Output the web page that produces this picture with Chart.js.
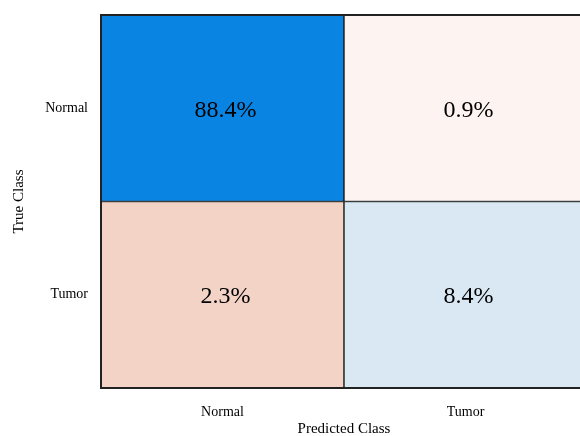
<!DOCTYPE html>
<html>
<head>
<meta charset="utf-8">
<script src="https://cdn.jsdelivr.net/npm/chart.js@4.4.1/dist/chart.umd.min.js"></script>
<style>
  html, body { margin: 0; padding: 0; background: #fff; overflow: hidden; }
  #wrap { width: 590px; height: 436px; }
</style>
</head>
<body>
<div id="wrap"><canvas id="cm" width="590" height="436"></canvas></div>
<script>
// Confusion matrix: rows = true class, columns = predicted class (percent of all samples)
const predictedClasses = ['Normal', 'Tumor'];
const trueClasses = ['Normal', 'Tumor'];
const rowNormal = [88.4, 0.9];   // true Normal -> predicted Normal, Tumor
const rowTumor = [2.3, 8.4];     // true Tumor  -> predicted Normal, Tumor
const colorsNormal = ['#0A84E2', '#FDF3F0'];
const colorsTumor = ['#F2D3C5', '#D9E8F3'];

const FONT = '"Liberation Serif", "Times New Roman", serif';

// each cell is a unit-height stacked bar; the percentage is carried alongside
const cellData = (row) => row.map((v, i) => ({ x: predictedClasses[i], y: 1, pct: v }));

const cellLabels = {
  id: 'cellLabels',
  afterDatasetsDraw(chart) {
    const ctx = chart.ctx;
    ctx.save();
    ctx.font = '24px ' + FONT;
    ctx.fillStyle = '#000';
    ctx.textAlign = 'center';
    ctx.textBaseline = 'middle';
    chart.data.datasets.forEach((ds, di) => {
      chart.getDatasetMeta(di).data.forEach((bar, i) => {
        const p = bar.getProps(['x', 'y', 'base'], true);
        ctx.fillText(ds.data[i].pct.toFixed(1) + '%', p.x + 3, (p.y + p.base) / 2 + 2);
      });
    });
    // outer frame
    const a = chart.chartArea;
    ctx.strokeStyle = '#222';
    ctx.lineWidth = 2;
    ctx.strokeRect(a.left, a.top, a.right - a.left, a.bottom - a.top);
    ctx.restore();
  }
};

new Chart(document.getElementById('cm'), {
  type: 'bar',
  data: {
    labels: predictedClasses,
    datasets: [
      { label: trueClasses[1], data: cellData(rowTumor), backgroundColor: colorsTumor },
      { label: trueClasses[0], data: cellData(rowNormal), backgroundColor: colorsNormal }
    ]
  },
  options: {
    responsive: false,
    animation: false,
    events: [],
    layout: { padding: { top: 15, right: 3, left: 0, bottom: 0 } },
    datasets: {
      bar: {
        barPercentage: 1,
        categoryPercentage: 1,
        borderColor: '#111',
        borderWidth: 1,
        borderSkipped: false
      }
    },
    plugins: { legend: { display: false }, tooltip: { enabled: false } },
    scales: {
      x: {
        stacked: true,
        grid: { display: false, drawTicks: false },
        border: { display: false },
        ticks: { color: '#000', font: { family: FONT, size: 14 }, padding: 16 },
        title: { display: true, text: 'Predicted Class', color: '#000', font: { family: FONT, size: 15 }, padding: { top: 0, bottom: -2 } },
        afterFit(s) { s.height = 48; s.paddingLeft = 0; s.paddingRight = 0; }
      },
      y: {
        stacked: true,
        min: 0,
        max: 2,
        grid: { display: false, drawTicks: false },
        border: { display: false },
        afterBuildTicks(s) { s.ticks = [{ value: 0.5 }, { value: 1.5 }]; },
        ticks: {
          color: '#000',
          font: { family: FONT, size: 14 },
          padding: 13,
          callback: (v) => (v === 1.5 ? trueClasses[0] : trueClasses[1])
        },
        title: { display: true, text: 'True Class', color: '#000', font: { family: FONT, size: 15 }, padding: { top: 10, bottom: 0 } },
        afterFit(s) { s.width = 101; s.paddingTop = 0; s.paddingBottom = 0; }
      }
    }
  },
  plugins: [cellLabels]
});
</script>
</body>
</html>
